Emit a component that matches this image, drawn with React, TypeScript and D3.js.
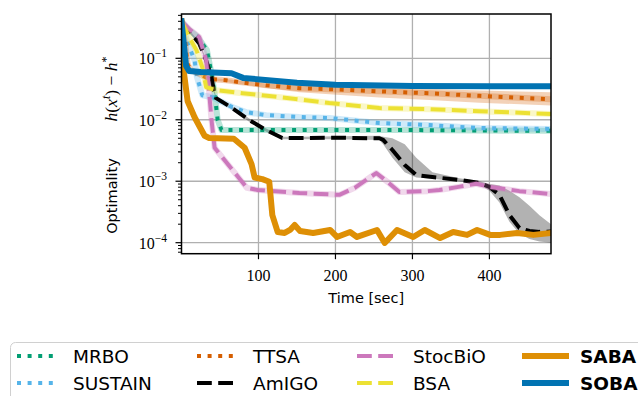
import React, { useEffect, useRef } from 'react';
import * as d3 from 'd3';

const width = 638;
const height = 396;

// time stamps [sec] and optimality h(x^t) - h^* read for every solver
const mrboTime = [0, 8, 20, 33, 39, 43, 47, 52, 150, 300, 480];
const mrboVal = [0.4, 0.3, 0.23, 0.136, 0.057, 0.027, 0.0099, 0.0068, 0.0068, 0.0068, 0.0066];

const sustainTime = [0, 8, 17, 20, 27, 40, 66, 84, 110, 153, 192, 257, 322, 387, 480];
const sustainVal = [0.4, 0.175, 0.093, 0.05, 0.0251, 0.0233, 0.0161, 0.0133, 0.0119, 0.0111, 0.0107, 0.00885, 0.0082, 0.00734, 0.0071];

const ttsaTime = [0, 5, 8, 12, 36, 58, 75, 110, 153, 192, 257, 322, 387, 480];
const ttsaVal = [0.4, 0.17, 0.08, 0.065, 0.046, 0.044, 0.041, 0.0365, 0.0326, 0.0315, 0.029, 0.027, 0.0245, 0.0216];
const ttsaLow = [0.38, 0.16, 0.075, 0.061, 0.044, 0.041, 0.038, 0.033, 0.028, 0.026, 0.023, 0.021, 0.019, 0.017];
const ttsaHigh = [0.42, 0.18, 0.085, 0.069, 0.048, 0.046, 0.043, 0.039, 0.036, 0.035, 0.033, 0.032, 0.03, 0.028];

const amigoTime = [0, 6, 23, 32, 39, 42, 45, 66, 88, 110, 131, 153, 200, 257, 262, 274, 290, 305, 326, 361, 387, 400, 413, 426, 439, 452, 465, 480];
const amigoVal = [0.4, 0.318, 0.175, 0.093, 0.049, 0.03, 0.0225, 0.0155, 0.0099, 0.0068, 0.00505, 0.00505, 0.0051, 0.005, 0.0047, 0.00322, 0.00184, 0.00126, 0.00117, 0.00105, 0.00094, 0.00081, 0.0006, 0.000282, 0.000174, 0.000155, 0.00015, 0.000152];
const amigoLow = [0.38, 0.3, 0.165, 0.088, 0.046, 0.028, 0.021, 0.0146, 0.0093, 0.0064, 0.0048, 0.0048, 0.0048, 0.0047, 0.004, 0.0024, 0.0014, 0.00115, 0.0011, 0.00099, 0.00088, 0.0007, 0.00045, 0.00022, 0.00014, 0.000115, 0.000105, 0.0001];
const amigoHigh = [0.42, 0.335, 0.185, 0.098, 0.052, 0.032, 0.024, 0.0164, 0.0105, 0.0072, 0.0053, 0.0053, 0.0054, 0.0055, 0.0053, 0.005, 0.004, 0.0024, 0.0014, 0.00112, 0.001, 0.0009, 0.00085, 0.0007, 0.00055, 0.0004, 0.00028, 0.0002];

const stocbioTime = [0, 10, 23, 32, 36, 39, 43, 85, 99, 153, 205, 225, 240, 253, 268, 283, 320, 335, 360, 383, 400, 439, 480];
const stocbioVal = [0.4, 0.3, 0.222, 0.094, 0.0272, 0.0099, 0.0035, 0.00078, 0.00072, 0.000644, 0.0006, 0.00078, 0.00105, 0.00136, 0.00097, 0.00067, 0.00069, 0.00072, 0.00081, 0.00091, 0.00081, 0.00069, 0.00062];

const bsaTime = [0, 10, 19.5, 27, 32, 45, 79, 153, 192, 257, 322, 387, 480];
const bsaVal = [0.4, 0.219, 0.135, 0.0715, 0.0339, 0.0303, 0.0271, 0.0215, 0.0187, 0.0155, 0.0149, 0.0138, 0.0124];

const sabaTime = [0, 3, 8, 17, 30, 36, 68, 82, 91, 95, 105, 114, 118, 125, 134, 141, 147, 154, 171, 193, 202, 219, 228, 254, 264, 280, 301, 316, 336, 353, 371, 384, 401, 414, 436, 457, 480];
const sabaVal = [0.4, 0.06, 0.02, 0.011, 0.0055, 0.00505, 0.0049, 0.0035, 0.0019, 0.00115, 0.00108, 0.00098, 0.00028, 0.000149, 0.000144, 0.000161, 0.000194, 0.000155, 0.000144, 0.000161, 0.000124, 0.000149, 0.000124, 0.000161, 0.000099, 0.000161, 0.000124, 0.000161, 0.000119, 0.000149, 0.000134, 0.000161, 0.000134, 0.000134, 0.000144, 0.000134, 0.000144];

const sobaTime = [0, 6, 10, 25, 65, 80, 150, 200, 300, 400, 480];
const sobaVal = [0.4, 0.075, 0.062, 0.06, 0.057, 0.048, 0.04, 0.037, 0.0355, 0.0352, 0.035];

const xTicks = [100, 200, 300, 400];
const yTickExp = [-4, -3, -2, -1];

type Series = {
  name: string;
  t: number[];
  v: number[];
  color: string;
  dash: string | null;
  lw: number;
  bold?: boolean;
  band?: boolean;
};

const series: Series[] = [
  { name: 'MRBO', t: mrboTime, v: mrboVal, color: '#029e73', dash: '4,6.6', lw: 4, band: true },
  { name: 'SUSTAIN', t: sustainTime, v: sustainVal, color: '#56b4e9', dash: '4,6.6', lw: 4, band: true },
  { name: 'TTSA', t: ttsaTime, v: ttsaVal, color: '#d55e00', dash: '4,6.6', lw: 4, band: true },
  { name: 'AmIGO', t: amigoTime, v: amigoVal, color: '#000000', dash: '14.8,6.4', lw: 4 },
  { name: 'StocBiO', t: stocbioTime, v: stocbioVal, color: '#cc78bc', dash: '14.8,6.4', lw: 4, band: true },
  { name: 'BSA', t: bsaTime, v: bsaVal, color: '#ece133', dash: '14.8,6.4', lw: 4, band: true },
  { name: 'SABA', t: sabaTime, v: sabaVal, color: '#de8f05', dash: null, lw: 6, bold: true },
  { name: 'SOBA', t: sobaTime, v: sobaVal, color: '#0173b2', dash: null, lw: 6, bold: true },
];

const App: React.FC = () => {
  const svgRef = useRef<SVGSVGElement>(null);

  useEffect(() => {
    if (!svgRef.current) return;
    const svg = d3.select(svgRef.current);
    svg.selectAll('*').remove();

    const left = 181.5, right = 551, top = 14, bottom = 253.7;
    const x = d3.scaleLinear().domain([0, 480]).range([left, right]);
    const y = d3.scaleLog().domain([6.62e-5, 0.526]).range([bottom, top]);

    svg.append('rect').attr('width', width).attr('height', height).attr('fill', 'white');

    // grid
    const grid = svg.append('g').attr('stroke', '#b0b0b0').attr('stroke-width', 1.3);
    xTicks.forEach(t => {
      grid.append('line').attr('x1', x(t)).attr('x2', x(t)).attr('y1', top).attr('y2', bottom);
    });
    yTickExp.forEach(e => {
      grid.append('line').attr('x1', left).attr('x2', right).attr('y1', y(10 ** e)).attr('y2', y(10 ** e));
    });

    svg.append('clipPath').attr('id', 'plot-clip')
      .append('rect').attr('x', left).attr('y', top).attr('width', right - left).attr('height', bottom - top);

    const plot = svg.append('g').attr('clip-path', 'url(#plot-clip)');

    // shaded bands
    const area = (t: number[], lo: number[], hi: number[]) =>
      d3.area<number>().x((_, i) => x(t[i])).y0((_, i) => y(lo[i])).y1((_, i) => y(hi[i]))(t.map((_, i) => i));
    plot.append('path').attr('d', area(ttsaTime, ttsaLow, ttsaHigh)).attr('fill', '#d55e00').attr('opacity', 0.28);
    plot.append('path').attr('d', area(amigoTime, amigoLow, amigoHigh)).attr('fill', '#000').attr('opacity', 0.3);

    series.forEach(s => {
      const line = d3.line<number>().x((_, i) => x(s.t[i])).y(d => y(d));
      const d = line(s.v);
      if (s.band) {
        plot.append('path').attr('d', d).attr('fill', 'none').attr('stroke', s.color)
          .attr('stroke-width', 6).attr('opacity', 0.28).attr('stroke-linejoin', 'round');
      }
      plot.append('path').attr('d', d).attr('fill', 'none').attr('stroke', s.color)
        .attr('stroke-width', s.lw)
        .attr('stroke-dasharray', s.dash ?? null)
        .attr('stroke-linejoin', 'round')
        .attr('stroke-linecap', s.dash ? 'butt' : 'square');
    });

    // frame
    svg.append('rect').attr('x', left).attr('y', top).attr('width', right - left).attr('height', bottom - top)
      .attr('fill', 'none').attr('stroke', 'black').attr('stroke-width', 1.5);

    // x ticks
    const serif = '"Liberation Serif", "DejaVu Serif", serif';
    const sans = '"DejaVu Sans", sans-serif';
    xTicks.forEach(t => {
      svg.append('line').attr('x1', x(t)).attr('x2', x(t)).attr('y1', bottom).attr('y2', bottom + 5.5)
        .attr('stroke', 'black').attr('stroke-width', 1.2);
      svg.append('text').attr('x', x(t)).attr('y', 281).attr('text-anchor', 'middle')
        .attr('font-family', serif).attr('font-size', 16).text(t);
    });

    // y ticks (log, with minors)
    for (let e = -5; e <= 0; e++) {
      for (let k = 1; k <= 9; k++) {
        const v = k * 10 ** e;
        if (v < 6.62e-5 || v > 0.526) continue;
        const len = k === 1 ? 6 : 3.5;
        svg.append('line').attr('x1', left - len).attr('x2', left).attr('y1', y(v)).attr('y2', y(v))
          .attr('stroke', 'black').attr('stroke-width', k === 1 ? 1.2 : 1);
      }
    }
    yTickExp.forEach(e => {
      const txt = svg.append('text').attr('x', 167).attr('y', y(10 ** e) + 6).attr('text-anchor', 'end')
        .attr('font-family', serif).attr('font-size', 16);
      txt.append('tspan').text('10');
      txt.append('tspan').attr('font-size', 11.5).attr('dy', -7).text(`\u2212${-e}`);
    });

    // axis labels
    svg.append('text').attr('x', (left + right) / 2).attr('y', 303).attr('text-anchor', 'middle')
      .attr('font-family', sans).attr('font-size', 14.5).text('Time [sec]');

    svg.append('text').attr('transform', 'translate(117,196) rotate(-90)').attr('text-anchor', 'middle')
      .attr('font-family', sans).attr('font-size', 14.5).text('Optimality');
    const math = svg.append('text').attr('transform', 'translate(117,89) rotate(-90)').attr('text-anchor', 'middle')
      .attr('font-family', serif).attr('font-size', 17.5);
    math.append('tspan').attr('font-style', 'italic').text('h');
    math.append('tspan').text('(');
    math.append('tspan').attr('font-style', 'italic').text('x');
    math.append('tspan').attr('font-style', 'italic').attr('font-size', 12).attr('dy', -7).text('t');
    math.append('tspan').attr('dy', 7).text(') \u2212 ');
    math.append('tspan').attr('font-style', 'italic').text('h');
    math.append('tspan').attr('font-size', 12).attr('dy', -7).text('*');

    // legend
    const lg = svg.append('g');
    lg.append('rect').attr('x', 10.5).attr('y', 342.5).attr('width', 700).attr('height', 100).attr('rx', 5)
      .attr('fill', 'white').attr('stroke', '#d0d0d0').attr('stroke-width', 1);
    const colHandle = [17, 197, 357, 522];
    const rowY = [356, 383];
    series.forEach((s, i) => {
      const col = Math.floor(i / 2);
      const row = i % 2;
      const hx = colHandle[col] + (s.dash ? 0 : 3);
      const cy = rowY[row];
      lg.append('line').attr('x1', hx).attr('x2', hx + (s.dash ? 40 : 41)).attr('y1', cy).attr('y2', cy)
        .attr('stroke', s.color).attr('stroke-width', s.lw)
        .attr('stroke-dasharray', s.dash ?? null)
        .attr('stroke-linecap', s.dash ? 'butt' : 'square');
      lg.append('text').attr('x', colHandle[col] + 56 + (col === 3 ? 2 : 0)).attr('y', cy + 7)
        .attr('font-family', sans).attr('font-size', 18.5)
        .attr('font-weight', s.bold ? 'bold' : 'normal').text(s.name);
    });
  }, []);

  return (
    <div style={{ position: 'absolute', left: 0, top: 0 }}>
      <svg ref={svgRef} width={width} height={height} style={{ display: 'block' }} />
    </div>
  );
};

export default App;
